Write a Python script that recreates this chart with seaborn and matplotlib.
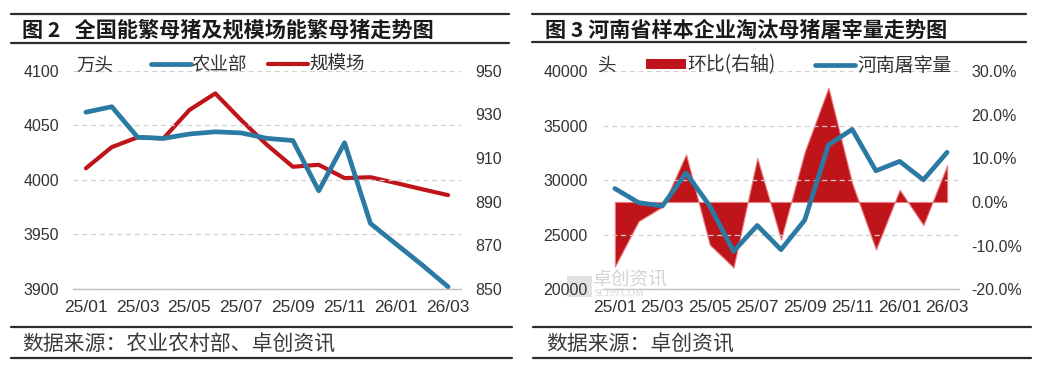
import numpy as np
import pandas as pd
import matplotlib
matplotlib.use('Agg')
import matplotlib.pyplot as plt
import seaborn as sns
from matplotlib.lines import Line2D
from matplotlib.patches import Patch, Rectangle
from matplotlib.ticker import FuncFormatter, FixedLocator

# ---------------- data ----------------
months = ['25/01', '25/02', '25/03', '25/04', '25/05', '25/06', '25/07', '25/08',
          '25/09', '25/10', '25/11', '25/12', '26/01', '26/02', '26/03']
tick_labels = ['25/01', '25/03', '25/05', '25/07', '25/09', '25/11', '26/01', '26/03']

moa_sows = [4062, 4067, 4039, 4038, 4042, 4044, 4043, 4038, 4036, 3990, 4034, 3960, 3941, 3922, 3902]
farm_sows = [905.3, 915, 919.5, 919, 932, 939.6, 927.4, 916, 906, 906.9, 900.8, 901.2, 898.5, 895.7, 893]

henan_slaughter = [29230, 27940, 27630, 30650, 27630, 23480, 25850, 23630,
                   26340, 33230, 34650, 30860, 31720, 30030, 32550]
henan_mom = [-14.8, -4.4, -1.1, 10.9, -9.8, -15.0, 10.1, -8.6,
             11.5, 26.2, 4.3, -10.9, 2.8, -5.3, 8.4]

left_ticks = [3900, 3950, 4000, 4050, 4100]
left_ticks_r = [850, 870, 890, 910, 930, 950]
right_ticks = [20000, 25000, 30000, 35000, 40000]
right_ticks_r = [-20, -10, 0, 10, 20, 30]

BLUE = '#2A7AA3'
RED = '#C0141B'
GRID = '#D0D0D0'
AXC = '#BFBFBF'
TXT = '#333333'

df1 = pd.DataFrame({'month': months, 'x': np.arange(len(months)),
                    'moa': moa_sows, 'farm': farm_sows})
df2 = pd.DataFrame({'month': months, 'x': np.arange(len(months)),
                    'slaughter': henan_slaughter, 'mom': henan_mom})

sns.set_theme(style='white')
plt.rcParams['font.family'] = ['Liberation Sans', 'Noto Sans CJK SC', 'DejaVu Sans']
plt.rcParams['axes.unicode_minus'] = False

W, H = 1039, 378
fig = plt.figure(figsize=(W / 100, H / 100), dpi=100)
fig.patch.set_facecolor('white')

CJK = ['Noto Sans CJK SC', 'DejaVu Sans']


def fx(px):
    return px / W


def fy(py):
    return 1 - py / H


def hline(x0, x1, y, lw=1.6):
    fig.add_artist(Line2D([fx(x0), fx(x1)], [fy(y), fy(y)], transform=fig.transFigure,
                          color='#2b2b2b', lw=lw))


def style_axes(ax, n):
    for s in ['top', 'left', 'right']:
        ax.spines[s].set_visible(False)
    ax.spines['bottom'].set_color(AXC)
    ax.spines['bottom'].set_linewidth(1.0)
    ax.set_xlim(-0.5, n - 0.5)
    ax.xaxis.set_major_locator(FixedLocator(list(range(0, n, 2))))
    ax.set_xticklabels(tick_labels)
    ax.xaxis.set_minor_locator(FixedLocator([i - 0.5 for i in range(0, n, 2)]))
    ax.tick_params(axis='x', which='major', length=0, pad=8, labelsize=12.5, labelcolor=TXT)
    ax.tick_params(axis='x', which='minor', length=4, color=AXC, direction='out', width=1)
    ax.set_xlabel('')


# ---------------- left chart ----------------
axL = fig.add_axes([fx(73), fy(289), fx(461) - fx(73), fy(70.7) - fy(289)])
axL.patch.set_visible(False)
axLr = axL.twinx()

sns.lineplot(data=df1, x='x', y='moa', ax=axL, color=BLUE, lw=3.4, legend=False)
sns.lineplot(data=df1, x='x', y='farm', ax=axLr, color=RED, lw=3.0, legend=False)
axL.set_zorder(axLr.get_zorder() + 1)

axL.set_ylim(3900, 4100)
axL.set_yticks(left_ticks)
axLr.set_ylim(850, 950)
axLr.set_yticks(left_ticks_r)
style_axes(axL, len(months))
for s in axLr.spines.values():
    s.set_visible(False)
axL.set_ylabel('')
axLr.set_ylabel('')
axL.tick_params(axis='y', length=0, pad=10, labelsize=11.5, labelcolor=TXT)
axLr.tick_params(axis='y', length=0, pad=10, labelsize=11.5, labelcolor=TXT)
axL.yaxis.grid(True, color=GRID, ls=(0, (4, 3)), lw=0.9)
axL.set_axisbelow(True)
axLr.grid(False)

# ---------------- right chart ----------------
axR = fig.add_axes([fx(603), fy(289.3), fx(959) - fx(603), fy(71) - fy(289.3)])
axRr = axR.twinx()
axRr.fill_between(df2['x'], 0, df2['mom'], color=RED, lw=0.8, edgecolor='#E88080', zorder=2)
sns.lineplot(data=df2, x='x', y='slaughter', ax=axR, color=BLUE, lw=3.4, legend=False, zorder=3)
axR.set_zorder(axRr.get_zorder() + 1)
axR.patch.set_visible(False)

axR.set_ylim(20000, 40000)
axR.set_yticks(right_ticks)
axRr.set_ylim(-20, 30)
axRr.set_yticks(right_ticks_r)
axRr.yaxis.set_major_formatter(FuncFormatter(lambda v, p: f'{v:.1f}%'))
style_axes(axR, len(months))
for s in axRr.spines.values():
    s.set_visible(False)
axR.set_ylabel('')
axRr.set_ylabel('')
axR.tick_params(axis='y', length=0, pad=11, labelsize=11.5, labelcolor=TXT)
axRr.tick_params(axis='y', length=0, pad=9, labelsize=11.5, labelcolor=TXT)
axR.yaxis.grid(True, color=GRID, ls=(0, (4, 3)), lw=0.9)
axRr.grid(False)

# ---------------- legends & units ----------------
fig.text(fx(76), fy(66), '万头', fontsize=13.3, family=CJK, color=TXT, va='center', ha='left')
legL = fig.legend(handles=[Line2D([], [], color=BLUE, lw=3.4), Line2D([], [], color=RED, lw=3.0)],
                  labels=['农业部', '规模场'], loc='center left',
                  bbox_to_anchor=(fx(151), fy(65)), bbox_transform=fig.transFigure,
                  ncol=2, frameon=False, prop={'family': CJK, 'size': 13.3},
                  handlelength=2.15, handletextpad=0.05, columnspacing=1.15,
                  borderpad=0, borderaxespad=0, labelcolor=TXT)

fig.text(fx(598), fy(66), '头', fontsize=13.3, family=CJK, color=TXT, va='center', ha='left')
legR = fig.legend(handles=[Patch(facecolor=RED, edgecolor='none'), Line2D([], [], color=BLUE, lw=3.4)],
                  labels=['环比(右轴)', '河南屠宰量'], loc='center left',
                  bbox_to_anchor=(fx(646), fy(65)), bbox_transform=fig.transFigure,
                  ncol=2, frameon=False, prop={'family': CJK, 'size': 13.6},
                  handlelength=2.1, handleheight=0.45, handletextpad=0.1, columnspacing=2.1,
                  borderpad=0, borderaxespad=0, labelcolor=TXT)

# ---------------- titles and frames ----------------
hline(11, 509, 14)
hline(11, 509, 43)
hline(532, 1026, 14)
hline(532, 1026, 42)
fig.text(fx(22), fy(30), '图 2   全国能繁母猪及规模场能繁母猪走势图', fontsize=15.2, weight='bold',
         family=CJK, color='#1a1a1a', va='center', ha='left')
fig.text(fx(545), fy(30), '图 3 河南省样本企业淘汰母猪屠宰量走势图', fontsize=15.2, weight='bold',
         family=CJK, color='#1a1a1a', va='center', ha='left')

hline(11, 512, 327)
hline(11, 512, 358)
hline(533, 1031, 327)
hline(533, 1031, 358)
fig.text(fx(22), fy(345), '数据来源：农业农村部、卓创资讯', fontsize=15, family=CJK,
         color='#3a3a3a', va='center', ha='left')
fig.text(fx(546), fy(345), '数据来源：卓创资讯', fontsize=15, family=CJK,
         color='#3a3a3a', va='center', ha='left')

# watermark
fig.add_artist(Rectangle((fx(567), fy(297)), fx(25), fy(276) - fy(297), transform=fig.transFigure,
                         facecolor='#e2e2e2', edgecolor='none', zorder=-1))
fig.text(fx(593), fy(280), '卓创资讯', fontsize=13.5, family=CJK, color='#d4d4d4',
         va='center', ha='left', zorder=5)
fig.text(fx(594), fy(294), 'SCI99.COM', fontsize=7, family=['Liberation Serif'], color='#d4d4d4',
         va='center', ha='left', zorder=5)

fig.savefig('out.png', dpi=100, facecolor='white')
